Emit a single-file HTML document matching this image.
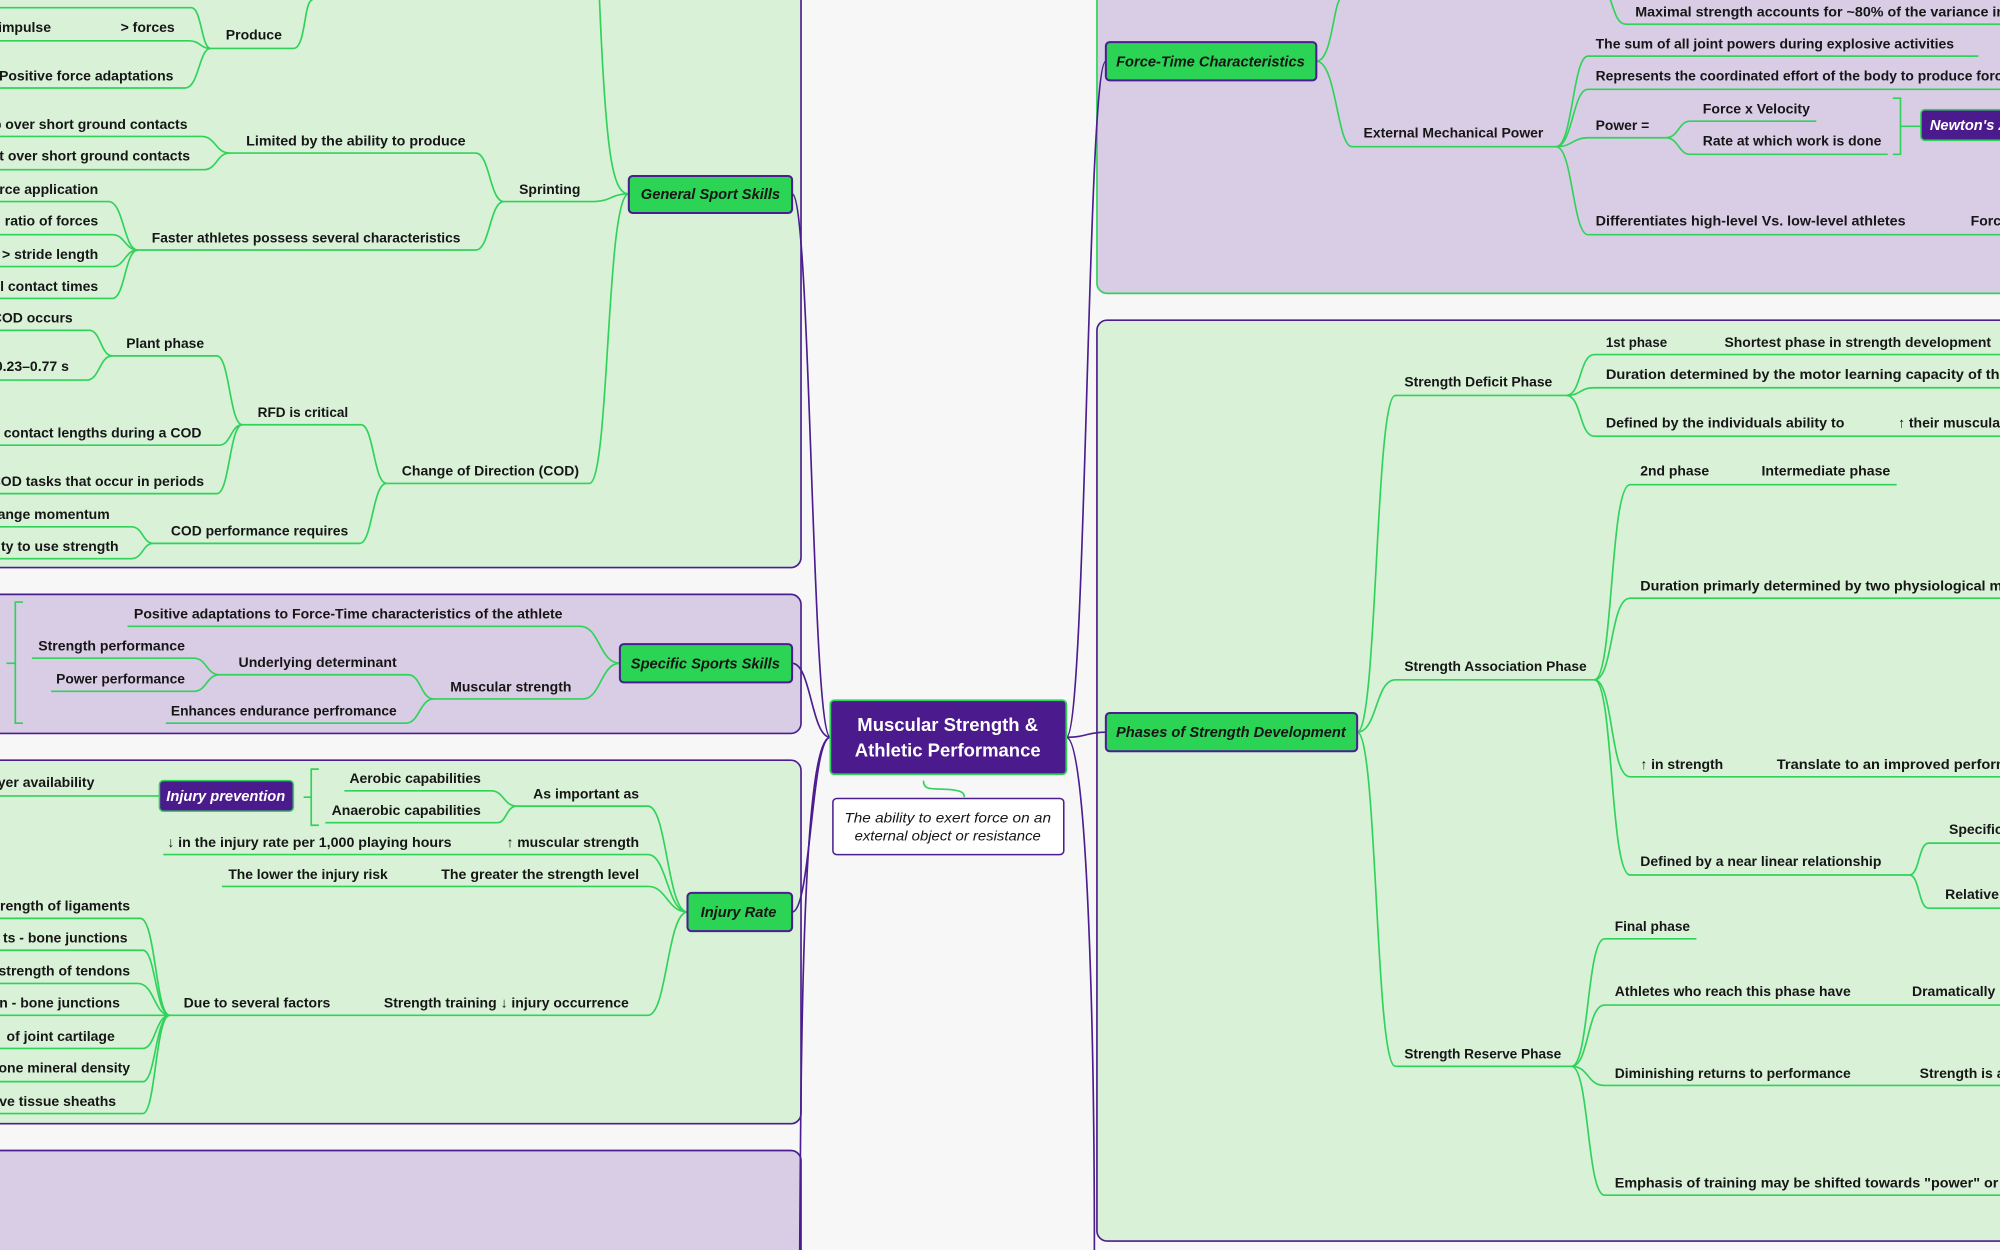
<!DOCTYPE html>
<html><head><meta charset="utf-8"><style>
html,body{margin:0;padding:0;background:#f7f7f8;}
svg{display:block}
text{font-family:"Liberation Sans",sans-serif;font-weight:bold;font-size:11px;fill:#161616}
.n{font-style:italic;font-size:11.5px}
.w{fill:#fff}
.g{fill:none;stroke:#30d35a;stroke-width:1.3}
.p{fill:none;stroke:#4b1d8f;stroke-width:1.3}
</style></head><body>
<svg width="2000" height="1250" viewBox="0 0 1568 980" xmlns="http://www.w3.org/2000/svg">
<rect x="0" y="0" width="1568" height="980" fill="#f7f7f8"/>
<!-- panels -->
<rect x="-20" y="-20" width="648" height="465" rx="8" fill="#d8f1d7" stroke="#4b1d8f" stroke-width="1.3"/>
<rect x="-20" y="466" width="648" height="109" rx="8" fill="#d9cce5" stroke="#4b1d8f" stroke-width="1.3"/>
<rect x="-20" y="596" width="648" height="285" rx="8" fill="#d8f1d7" stroke="#4b1d8f" stroke-width="1.3"/>
<rect x="-20" y="902" width="648" height="120" rx="8" fill="#d9cce5" stroke="#4b1d8f" stroke-width="1.3"/>
<rect x="860" y="-20" width="740" height="250" rx="8" fill="#d9cce5" stroke="#30d35a" stroke-width="1.3"/>
<rect x="860" y="251" width="740" height="722" rx="8" fill="#d8f1d7" stroke="#4b1d8f" stroke-width="1.3"/>

<!-- center connectors -->
<path class="p" d="M651,578 C636,578 636,152 621,152"/>
<path class="p" d="M651,578 C636,578 636,520 621,520"/>
<path class="p" d="M651,578 C636,578 636,715 621,715"/>
<path class="p" d="M651,578 C630,578 628,800 627,980"/>
<path class="p" d="M836,578 C852,578 852,48 867,48"/>
<path class="p" d="M836,578 C852,578 852,574 867,574"/>
<path class="p" d="M836,578 C852,578 858,800 858,980"/>
<path class="g" d="M724,612 C724,620 730,618 745,619 C755,620 756,622 756,625"/>

<!-- General Sport Skills branch -->
<g class="g">
<path d="M395,158 H465 C479,158 479,152 493,152"/>
<path d="M303,379 H462 C478,379 475,152 493,152"/>
<path d="M470,0 C475,120 480,152 493,152"/>
<path d="M180,120 H373 C384,120 384,158 395,158"/>
<path d="M108,196 H373 C384,196 384,158 395,158"/>
<path d="M0,107 H158 C169,107 169,120 180,120"/>
<path d="M0,133 H160 C170,133 170,120 180,120"/>
<path d="M0,158 H85 C97,158 97,196 108,196"/>
<path d="M0,184 H88 C98,184 98,196 108,196"/>
<path d="M0,209 H88 C98,209 98,196 108,196"/>
<path d="M0,234 H88 C98,234 98,196 108,196"/>
<path d="M165,38 H230 C240,38 238,0 245,0"/>
<path d="M0,6 H150 C158,6 158,38 165,38"/>
<path d="M0,32 H148 C157,32 157,38 165,38"/>
<path d="M0,69 H145 C156,69 156,38 165,38"/>
<path d="M190,333 H283 C293,333 293,379 303,379"/>
<path d="M120,426 H282 C292,426 292,379 303,379"/>
<path d="M88,279 H170 C180,279 180,333 190,333"/>
<path d="M0,349 H172 C181,349 181,333 190,333"/>
<path d="M0,387 H170 C180,387 180,333 190,333"/>
<path d="M0,259 H70 C79,259 79,279 88,279"/>
<path d="M0,298 H68 C78,298 78,279 88,279"/>
<path d="M0,413 H103 C112,413 112,426 120,426"/>
<path d="M0,438 H103 C112,438 112,426 120,426"/>
</g>
<text x="221" y="31" text-anchor="end">Produce</text>
<text x="137" y="25" text-anchor="end">&gt; forces</text>
<text x="40" y="25" text-anchor="end">impulse</text>
<text x="136" y="63" text-anchor="end">Positive force adaptations</text>
<text x="147" y="101" text-anchor="end">p over short ground contacts</text>
<text x="149" y="126" text-anchor="end">t over short ground contacts</text>
<text x="193" y="114" textLength="172" lengthAdjust="spacingAndGlyphs">Limited by the ability to produce</text>
<text x="407" y="152" textLength="48" lengthAdjust="spacingAndGlyphs">Sprinting</text>
<text x="119" y="190" textLength="242" lengthAdjust="spacingAndGlyphs">Faster athletes possess several characteristics</text>
<text x="77" y="152" text-anchor="end">rce application</text>
<text x="77" y="177" text-anchor="end">ratio of forces</text>
<text x="77" y="203" text-anchor="end">&gt; stride length</text>
<text x="77" y="228" text-anchor="end">l contact times</text>
<text x="57" y="253" text-anchor="end">COD occurs</text>
<text x="99" y="273" textLength="61" lengthAdjust="spacingAndGlyphs">Plant phase</text>
<text x="54" y="291" text-anchor="end">0.23–0.77 s</text>
<text x="202" y="327" textLength="71" lengthAdjust="spacingAndGlyphs">RFD is critical</text>
<text x="158" y="343" text-anchor="end">contact lengths during a COD</text>
<text x="315" y="373" textLength="139" lengthAdjust="spacingAndGlyphs">Change of Direction (COD)</text>
<text x="160" y="381" text-anchor="end">COD tasks that occur in periods</text>
<text x="86" y="407" text-anchor="end">ange momentum</text>
<text x="134" y="420" textLength="139" lengthAdjust="spacingAndGlyphs">COD performance requires</text>
<text x="93" y="432" text-anchor="end">ty to use strength</text>
<rect x="493" y="138" width="128" height="29" rx="3" fill="#2bd455" stroke="#4b1d8f" stroke-width="1.6"/>
<text class="n" x="557" y="156" text-anchor="middle">General Sport Skills</text>

<!-- Specific Sports Skills -->
<g class="g">
<path d="M100,491 H455 C470,491 470,520 486,520"/>
<path d="M340,548 H457 C471,548 471,520 486,520"/>
<path d="M172,529 H320 C330,529 330,548 340,548"/>
<path d="M130,567 H318 C329,567 329,548 340,548"/>
<path d="M25,516 H152 C162,516 162,529 172,529"/>
<path d="M40,542 H152 C162,542 162,529 172,529"/>
<path d="M18,472 H12 V567 H18"/>
<path d="M5,520 H12"/>
</g>
<text x="105" y="485" textLength="336" lengthAdjust="spacingAndGlyphs">Positive adaptations to Force-Time characteristics of the athlete</text>
<text x="30" y="510" textLength="115" lengthAdjust="spacingAndGlyphs">Strength performance</text>
<text x="187" y="523" textLength="124" lengthAdjust="spacingAndGlyphs">Underlying determinant</text>
<text x="44" y="536" textLength="101" lengthAdjust="spacingAndGlyphs">Power performance</text>
<text x="353" y="542" textLength="95" lengthAdjust="spacingAndGlyphs">Muscular strength</text>
<text x="134" y="561" textLength="177" lengthAdjust="spacingAndGlyphs">Enhances endurance perfromance</text>
<rect x="486" y="505" width="135" height="30" rx="3" fill="#2bd455" stroke="#4b1d8f" stroke-width="1.6"/>
<text class="n" x="553" y="524" text-anchor="middle">Specific Sports Skills</text>

<!-- Injury Rate -->
<g class="g">
<path d="M405,632 H508 C523,632 523,715 539,715"/>
<path d="M128,670 H508 C523,670 523,715 539,715"/>
<path d="M174,695 H508 C523,695 523,715 539,715"/>
<path d="M133,796 H508 C523,796 523,715 539,715"/>
<path d="M270,620 H385 C395,620 395,632 405,632"/>
<path d="M255,645 H390 C397,645 397,632 405,632"/>
<path d="M250,603 H244 V647 H250"/>
<path d="M238,625 H244"/>
<path d="M0,624 H125"/>
<path d="M0,720 H110 C122,720 122,796 133,796"/>
<path d="M0,745 H112 C122,745 122,796 133,796"/>
<path d="M0,771 H108 C121,771 121,796 133,796"/>
<path d="M0,796 H133"/>
<path d="M0,822 H112 C122,822 122,796 133,796"/>
<path d="M0,848 H112 C122,848 122,796 133,796"/>
<path d="M0,873 H112 C122,873 122,796 133,796"/>
</g>
<text x="74" y="617" text-anchor="end">yer availability</text>
<rect x="125" y="612" width="105" height="24" rx="3" fill="#4b1a8c" stroke="#30d35a" stroke-width="1.2"/>
<text class="n w" x="177" y="628" text-anchor="middle">Injury prevention</text>
<text x="274" y="614" textLength="103" lengthAdjust="spacingAndGlyphs">Aerobic capabilities</text>
<text x="418" y="626" textLength="83" lengthAdjust="spacingAndGlyphs">As important as</text>
<text x="260" y="639" textLength="117" lengthAdjust="spacingAndGlyphs">Anaerobic capabilities</text>
<text x="131" y="664" textLength="223" lengthAdjust="spacingAndGlyphs">↓ in the injury rate per 1,000 playing hours</text>
<text x="397" y="664" textLength="104" lengthAdjust="spacingAndGlyphs">↑ muscular strength</text>
<text x="179" y="689" textLength="125" lengthAdjust="spacingAndGlyphs">The lower the injury risk</text>
<text x="346" y="689" textLength="155" lengthAdjust="spacingAndGlyphs">The greater the strength level</text>
<text x="102" y="714" text-anchor="end">rength of ligaments</text>
<text x="100" y="739" text-anchor="end">ts - bone junctions</text>
<text x="102" y="765" text-anchor="end">strength of tendons</text>
<text x="94" y="790" text-anchor="end">n - bone junctions</text>
<text x="144" y="790" textLength="115" lengthAdjust="spacingAndGlyphs">Due to several factors</text>
<text x="301" y="790" textLength="192" lengthAdjust="spacingAndGlyphs">Strength training ↓ injury occurrence</text>
<text x="90" y="816" text-anchor="end">of joint cartilage</text>
<text x="102" y="841" text-anchor="end">one mineral density</text>
<text x="91" y="867" text-anchor="end">ive tissue sheaths</text>
<rect x="539" y="700" width="82" height="30" rx="3" fill="#2bd455" stroke="#4b1d8f" stroke-width="1.6"/>
<text class="n" x="579" y="719" text-anchor="middle">Injury Rate</text>

<!-- Center -->
<rect x="651" y="549" width="185" height="58" rx="3" fill="#4b1a8c" stroke="#30d35a" stroke-width="1.4"/>
<text class="w" x="743" y="573" text-anchor="middle" style="font-size:14.5px">Muscular Strength &amp;</text>
<text class="w" x="743" y="593" text-anchor="middle" style="font-size:14.5px">Athletic Performance</text>
<rect x="653" y="626" width="181" height="44" rx="3" fill="#ffffff" stroke="#4b1d8f" stroke-width="1.2"/>
<text x="743" y="645" text-anchor="middle" style="font-style:italic;font-weight:normal;font-size:11px" textLength="162" lengthAdjust="spacingAndGlyphs">The ability to exert force on an</text>
<text x="743" y="659" text-anchor="middle" style="font-style:italic;font-weight:normal;font-size:11px" textLength="146" lengthAdjust="spacingAndGlyphs">external object or resistance</text>

<!-- Force-Time -->
<g class="g">
<path d="M1032,48 C1045,48 1045,0 1052,-2"/>
<path d="M1032,48 C1048,48 1048,115 1060,115 H1220"/>
<path d="M1262,-2 C1266,10 1268,19 1275,19 H1568"/>
<path d="M1220,115 C1233,115 1233,44 1245,44 H1551"/>
<path d="M1220,115 C1233,115 1233,70 1245,70 H1568"/>
<path d="M1220,115 C1233,115 1233,108 1245,108 H1306"/>
<path d="M1220,115 C1233,115 1233,184 1245,184 H1568"/>
<path d="M1306,108 C1316,108 1316,95 1325,95 H1424"/>
<path d="M1306,108 C1316,108 1316,121 1325,121 H1480"/>
<path d="M1484,77 H1490 V121 H1484"/>
<path d="M1490,99 H1506"/>
</g>
<text x="1282" y="13" textLength="290" lengthAdjust="spacingAndGlyphs">Maximal strength accounts for ~80% of the variance in</text>
<text x="1069" y="108" textLength="141" lengthAdjust="spacingAndGlyphs">External Mechanical Power</text>
<text x="1251" y="38" textLength="281" lengthAdjust="spacingAndGlyphs">The sum of all joint powers during explosive activities</text>
<text x="1251" y="63" textLength="325" lengthAdjust="spacingAndGlyphs">Represents the coordinated effort of the body to produce force</text>
<text x="1251" y="102" textLength="42" lengthAdjust="spacingAndGlyphs">Power =</text>
<text x="1335" y="89" textLength="84" lengthAdjust="spacingAndGlyphs">Force x Velocity</text>
<text x="1335" y="114" textLength="140" lengthAdjust="spacingAndGlyphs">Rate at which work is done</text>
<text x="1251" y="177" textLength="243" lengthAdjust="spacingAndGlyphs">Differentiates high-level Vs. low-level athletes</text>
<text x="1545" y="177">Force</text>
<rect x="1506" y="86" width="80" height="24" rx="3" fill="#4b1a8c" stroke="#30d35a" stroke-width="1.2"/>
<text class="n w" x="1513" y="102">Newton's 2nd</text>
<rect x="867" y="33" width="165" height="30" rx="3" fill="#2bd455" stroke="#4b1d8f" stroke-width="1.6"/>
<text class="n" x="949" y="52" text-anchor="middle">Force-Time Characteristics</text>

<!-- Phases -->
<g class="g">
<path d="M1064,574 C1080,574 1078,310 1094,310 H1228"/>
<path d="M1064,574 C1080,574 1078,533 1094,533 H1250"/>
<path d="M1064,574 C1080,574 1078,836 1094,836 H1232"/>
<path d="M1228,310 C1240,310 1238,278 1250,278 H1568"/>
<path d="M1228,310 C1240,310 1238,304 1250,304 H1568"/>
<path d="M1228,310 C1240,310 1238,342 1250,342 H1568"/>
<path d="M1250,533 C1265,533 1262,380 1278,380 H1487"/>
<path d="M1250,533 C1265,533 1262,469 1278,469 H1568"/>
<path d="M1250,533 C1265,533 1262,609 1278,609 H1568"/>
<path d="M1250,533 C1265,533 1262,686 1278,686 H1497"/>
<path d="M1497,686 C1505,686 1504,661 1512,661 H1568"/>
<path d="M1497,686 C1505,686 1504,712 1512,712 H1568"/>
<path d="M1232,836 C1246,836 1244,736 1258,736 H1330"/>
<path d="M1232,836 C1246,836 1244,788 1258,788 H1568"/>
<path d="M1232,836 C1246,836 1244,851 1258,851 H1568"/>
<path d="M1232,836 C1246,836 1244,937 1258,937 H1568"/>
</g>
<text x="1101" y="303" textLength="116" lengthAdjust="spacingAndGlyphs">Strength Deficit Phase</text>
<text x="1259" y="272" textLength="48" lengthAdjust="spacingAndGlyphs">1st phase</text>
<text x="1352" y="272" textLength="209" lengthAdjust="spacingAndGlyphs">Shortest phase in strength development</text>
<text x="1259" y="297" textLength="315" lengthAdjust="spacingAndGlyphs">Duration determined by the motor learning capacity of the</text>
<text x="1259" y="335" textLength="187" lengthAdjust="spacingAndGlyphs">Defined by the individuals ability to</text>
<text x="1488" y="335">↑ their muscular</text>
<text x="1101" y="526" textLength="143" lengthAdjust="spacingAndGlyphs">Strength Association Phase</text>
<text x="1286" y="373" textLength="54" lengthAdjust="spacingAndGlyphs">2nd phase</text>
<text x="1381" y="373" textLength="101" lengthAdjust="spacingAndGlyphs">Intermediate phase</text>
<text x="1286" y="463" textLength="290" lengthAdjust="spacingAndGlyphs">Duration primarly determined by two physiological me</text>
<text x="1286" y="603" textLength="65" lengthAdjust="spacingAndGlyphs">↑ in strength</text>
<text x="1393" y="603" textLength="182" lengthAdjust="spacingAndGlyphs">Translate to an improved perform</text>
<text x="1286" y="679" textLength="189" lengthAdjust="spacingAndGlyphs">Defined by a near linear relationship</text>
<text x="1528" y="654">Specific</text>
<text x="1525" y="705">Relative</text>
<text x="1101" y="830" textLength="123" lengthAdjust="spacingAndGlyphs">Strength Reserve Phase</text>
<text x="1266" y="730" textLength="59" lengthAdjust="spacingAndGlyphs">Final phase</text>
<text x="1266" y="781" textLength="185" lengthAdjust="spacingAndGlyphs">Athletes who reach this phase have</text>
<text x="1499" y="781">Dramatically</text>
<text x="1266" y="845" textLength="185" lengthAdjust="spacingAndGlyphs">Diminishing returns to performance</text>
<text x="1505" y="845">Strength is a</text>
<text x="1266" y="931" textLength="312" lengthAdjust="spacingAndGlyphs">Emphasis of training may be shifted towards "power" or R</text>
<rect x="867" y="559" width="197" height="30" rx="3" fill="#2bd455" stroke="#4b1d8f" stroke-width="1.6"/>
<text class="n" x="965" y="578" text-anchor="middle">Phases of Strength Development</text>
</svg>
</body></html>
